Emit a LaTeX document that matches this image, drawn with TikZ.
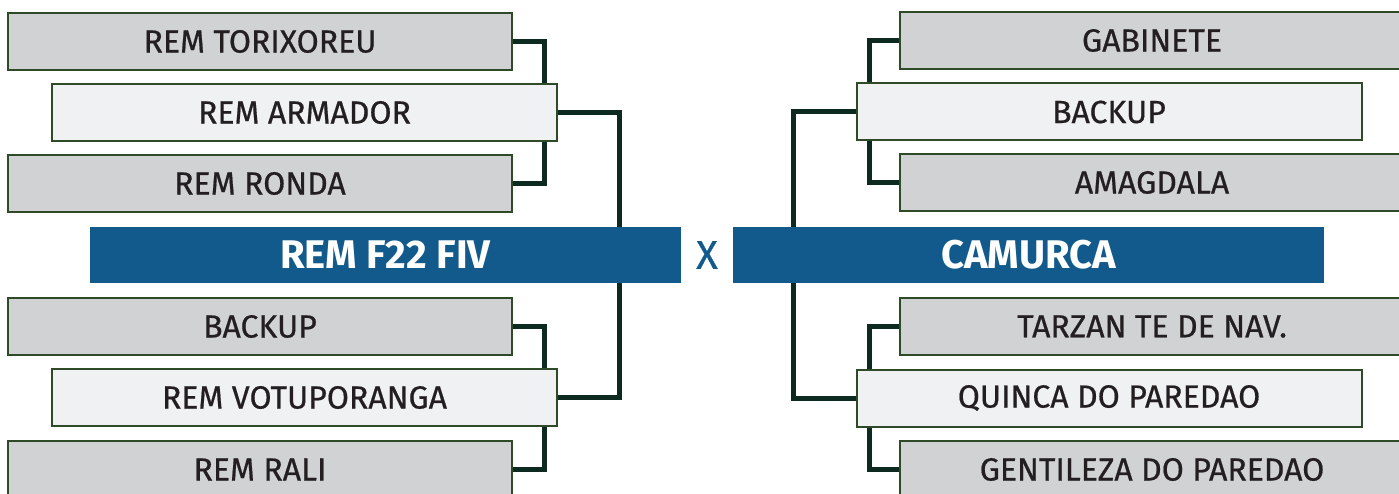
\documentclass[tikz,border=0pt]{standalone}
\usepackage{fontspec}
\setmainfont{Fira Sans}
\newfontfamily\teamfont[FakeBold=0.6]{Fira Sans}
\usetikzlibrary{backgrounds}
\definecolor{boxgray}{HTML}{D1D2D4}
\definecolor{boxlight}{HTML}{F0F1F3}
\definecolor{boxborder}{HTML}{2E4A27}
\definecolor{linkcol}{HTML}{0C2A1F}
\definecolor{barblue}{HTML}{115A8B}
\definecolor{txt}{HTML}{231F20}
\tikzset{
  team/.style={draw=boxborder, line width=2pt, minimum height=57pt, inner sep=0pt,
    text=txt, font=\teamfont\fontsize{32}{32}\selectfont},
  gteam/.style={team, fill=boxgray, minimum width=504pt},
  lteam/.style={team, fill=boxlight, minimum width=505pt},
  bar/.style={fill=barblue, minimum width=591pt, minimum height=56pt, inner sep=0pt,
    text=white, font=\fontsize{40}{40}\selectfont\bfseries},
  link/.style={draw=linkcol, line width=5pt},
}
\begin{document}
\begin{tikzpicture}[x=1pt,y=-1pt]
\useasboundingbox (0,0) rectangle (1399,494);
\clip (0,0) rectangle (1399,494);
% nodes (left)
\node[gteam] (t1) at (260,41.5) {REM TORIXOREU};
\node[lteam] (a1) at (304.5,112.5) {REM ARMADOR};
\node[gteam] (r1) at (260,183.5) {REM RONDA};
\node[bar] (f22) at (385.5,255) {REM F22 FIV};
\node[text=barblue, font=\teamfont\fontsize{40}{40}\selectfont] (vs) at (707,255) {X};
\node[bar] (cam) at (1028.5,255) {CAMURCA};
\node[gteam] (b1) at (260,326.5) {BACKUP};
\node[lteam] (v1) at (304.5,397.5) {REM VOTUPORANGA};
\node[gteam] (ra) at (260,469.5) {REM RALI};
% nodes (right)
\node[gteam] (g2) at (1152,40.5) {GABINETE};
\node[lteam] (b2) at (1109,112) {BACKUP};
\node[gteam] (am) at (1152,182.5) {AMAGDALA};
\node[gteam] (tz) at (1152,326.5) {TARZAN TE DE NAV.};
\node[lteam] (qd) at (1109,398) {QUINCA DO PAREDAO};
\node[gteam] (gp) at (1152,469.5) {GENTILEZA DO PAREDAO};
% connectors (behind)
\begin{scope}[on background layer]
\draw[link] (t1.east) -| ([xshift=-14pt]a1.north east);
\draw[link] (r1.east) -| ([xshift=-14pt]a1.south east);
\draw[link] (a1.east) -| ([xshift=-62pt]f22.north east);
\draw[link] (b1.east) -| ([xshift=-14pt]v1.north east);
\draw[link] (ra.east) -| ([xshift=-14pt]v1.south east);
\draw[link] (v1.east) -| ([xshift=-62pt]f22.south east);
\draw[link] (g2.west) -| ([xshift=14pt]b2.north west);
\draw[link] (am.west) -| ([xshift=14pt]b2.south west);
\draw[link] (b2.west) -| ([xshift=61pt]cam.north west);
\draw[link] (tz.west) -| ([xshift=14pt]qd.north west);
\draw[link] (gp.west) -| ([xshift=14pt]qd.south west);
\draw[link] (qd.west) -| ([xshift=61pt]cam.south west);
\end{scope}
\end{tikzpicture}
\end{document}
